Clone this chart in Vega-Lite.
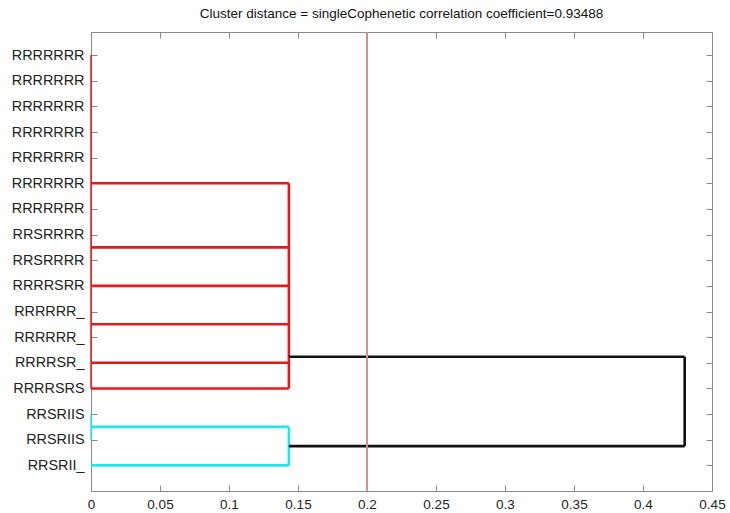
{
  "$schema": "https://vega.github.io/schema/vega-lite/v6.json",
  "width": 621,
  "height": 459,
  "autosize": {"type": "none"},
  "padding": {"left": 91, "top": 32, "right": 18, "bottom": 22},
  "background": "white",
  "title": {
    "text": "Cluster distance = singleCophenetic correlation coefficient=0.93488",
    "font": "Liberation Sans",
    "fontSize": 13.5,
    "fontWeight": "normal",
    "color": "#111",
    "anchor": "middle",
    "offset": 11
  },
  "config": {
    "view": {"stroke": null},
    "axis": {
      "grid": false,
      "domainColor": "#8a8a8a",
      "tickColor": "#8a8a8a",
      "labelFont": "Liberation Sans",
      "labelColor": "#222",
      "labelFlush": false,
      "title": null
    }
  },
  "data": {
    "values": [
      {"x": 0, "x2": 0.1434, "y": 6, "y2": 6, "cluster": "A"},
      {"x": 0, "x2": 0.1434, "y": 8.5, "y2": 8.5, "cluster": "A"},
      {"x": 0, "x2": 0.1434, "y": 10, "y2": 10, "cluster": "A"},
      {"x": 0, "x2": 0.1434, "y": 11.5, "y2": 11.5, "cluster": "A"},
      {"x": 0, "x2": 0.1434, "y": 13, "y2": 13, "cluster": "A"},
      {"x": 0, "x2": 0.1434, "y": 14, "y2": 14, "cluster": "A"},
      {"x": 0.1434, "x2": 0.1434, "y": 6, "y2": 14, "cluster": "A"},
      {"x": 0, "x2": 0, "y": 1, "y2": 14, "cluster": "A"},
      {"x": 0, "x2": 0.1434, "y": 15.5, "y2": 15.5, "cluster": "B"},
      {"x": 0, "x2": 0.1434, "y": 17, "y2": 17, "cluster": "B"},
      {"x": 0.1434, "x2": 0.1434, "y": 15.5, "y2": 17, "cluster": "B"},
      {"x": 0, "x2": 0, "y": 15, "y2": 16, "cluster": "B"},
      {"x": 0.1434, "x2": 0.4302, "y": 12.766, "y2": 12.766, "cluster": "link"},
      {"x": 0.1434, "x2": 0.4302, "y": 16.25, "y2": 16.25, "cluster": "link"},
      {"x": 0.4302, "x2": 0.4302, "y": 12.766, "y2": 16.25, "cluster": "link"}
    ]
  },
  "layer": [
    {
      "transform": [{"filter": "datum.x2 == 0"}],
      "mark": {"type": "rule", "strokeWidth": 1.5},
      "encoding": {
        "x": {
          "field": "x", "type": "quantitative",
          "scale": {"domain": [0, 0.45], "nice": false, "zero": false},
          "axis": {
            "orient": "bottom",
            "values": [0, 0.05, 0.1, 0.15, 0.2, 0.25, 0.3, 0.35, 0.4, 0.45],
            "format": "~g",
            "tickSize": -6,
            "labelPadding": 12,
            "labelFontSize": 13.5
          }
        },
        "x2": {"field": "x2"},
        "y": {
          "field": "y", "type": "quantitative",
          "scale": {"domain": [0.1, 18], "nice": false, "zero": false, "reverse": true},
          "axis": {
            "orient": "left",
            "values": [1, 2, 3, 4, 5, 6, 7, 8, 9, 10, 11, 12, 13, 14, 15, 16, 17],
            "labelExpr": "['RRRRRRR','RRRRRRR','RRRRRRR','RRRRRRR','RRRRRRR','RRRRRRR','RRRRRRR','RRSRRRR','RRSRRRR','RRRRSRR','RRRRRR_','RRRRRR_','RRRRSR_','RRRRSRS','RRSRIIS','RRSRIIS','RRSRII_'][datum.value - 1]",
            "tickSize": -6,
            "labelPadding": 13,
            "labelFontSize": 14.4
          }
        },
        "y2": {"field": "y2"},
        "color": {
          "field": "cluster", "type": "nominal",
          "scale": {"domain": ["A", "B", "link"], "range": ["#e3191c", "#22e8ee", "#111111"]},
          "legend": null
        }
      }
    },
    {
      "transform": [{"filter": "datum.x2 > 0"}],
      "mark": {"type": "rule", "strokeWidth": 2.6},
      "encoding": {
        "x": {
          "field": "x", "type": "quantitative",
          "axis": {
            "orient": "top",
            "values": [0, 0.05, 0.1, 0.15, 0.2, 0.25, 0.3, 0.35, 0.4, 0.45],
            "labels": false,
            "tickSize": -6
          }
        },
        "x2": {"field": "x2"},
        "y": {
          "field": "y", "type": "quantitative",
          "axis": {
            "orient": "right",
            "values": [1, 2, 3, 4, 5, 6, 7, 8, 9, 10, 11, 12, 13, 14, 15, 16, 17],
            "labels": false,
            "tickSize": -6
          }
        },
        "y2": {"field": "y2"},
        "color": {"field": "cluster", "type": "nominal", "legend": null}
      }
    },
    {
      "mark": {"type": "rule", "strokeWidth": 1, "color": "#d0908c"},
      "encoding": {
        "x": {"datum": 0.2, "type": "quantitative", "axis": null}
      }
    }
  ],
  "resolve": {"axis": {"x": "independent", "y": "independent"}}
}
